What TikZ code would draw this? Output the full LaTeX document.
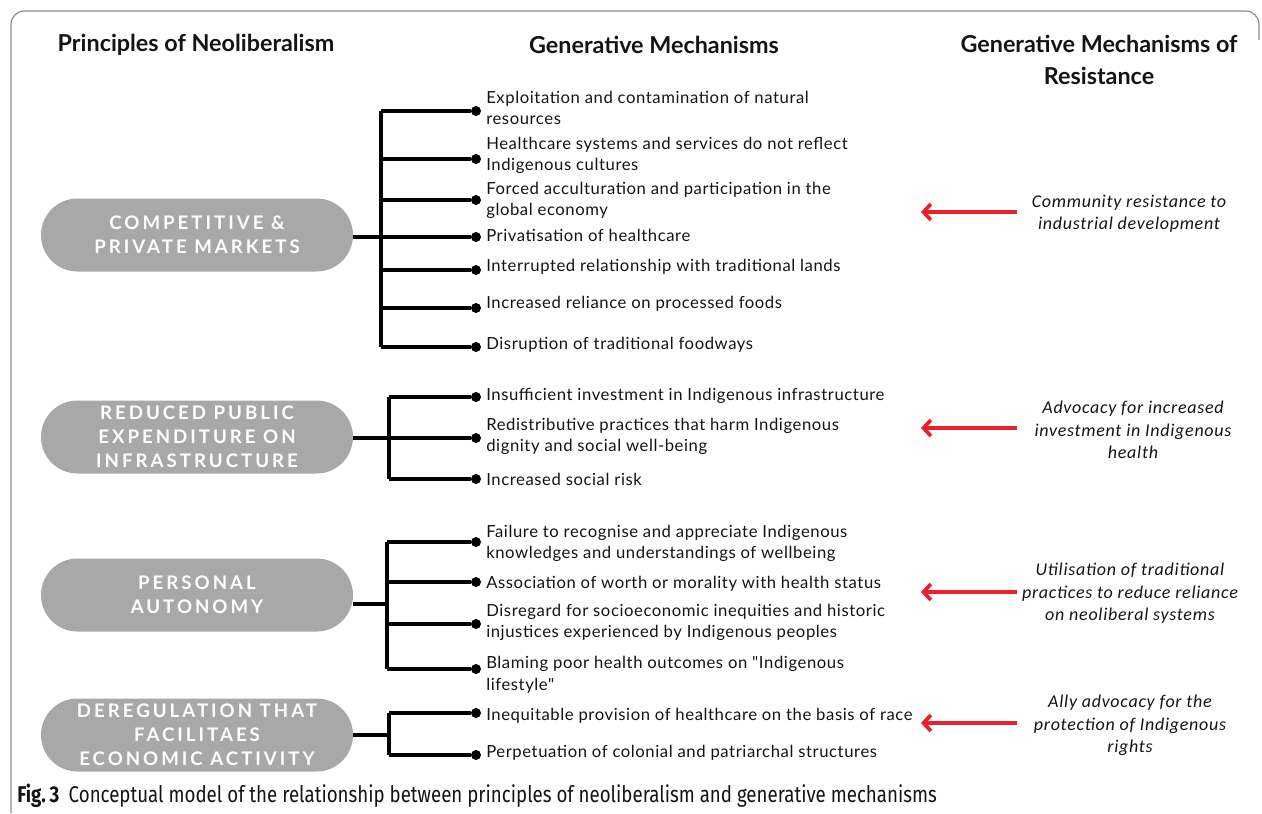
\documentclass[tikz,border=0pt]{standalone}
\usepackage{fontspec}
\setmainfont{Lato}
\newfontfamily\itemfont[LetterSpace=3.5]{Lato}
\newfontfamily\pillfont[LetterSpace=16]{Lato}
\newfontfamily\resfont[LetterSpace=4]{Carlito}
\newfontfamily\capfont[FakeStretch=0.82]{Fira Sans}
\usetikzlibrary{arrows.meta}
\definecolor{pillgray}{HTML}{A8A8A8}
\definecolor{arrred}{HTML}{E8202A}
\definecolor{txt}{HTML}{141414}
\definecolor{frame}{HTML}{8C8C8C}
\tikzset{
  pill/.style={fill=pillgray, rounded corners=27.3pt, minimum width=234pt, minimum height=54.75pt,
    text=white, font=\pillfont\bfseries\fontsize{14}{18}\selectfont, align=center, inner sep=0pt},
  item/.style={anchor=west, align=left, text=txt, font=\itemfont\fontsize{12.5}{16.2}\selectfont, inner sep=0pt},
  dot/.style={circle, fill=black, inner sep=0pt, minimum size=7.5pt},
  br/.style={line width=2.8pt, black},
  res/.style={font=\resfont\itshape\fontsize{13.5}{16.8}\selectfont, align=center, text=txt, inner sep=0pt},
  arr/.style={draw=arrred, line width=2.8pt, -{Straight Barb[length=5.5pt,width=12pt,line width=2.8pt]}},
  hdr/.style={font=\bfseries\fontsize{17.5}{23.5}\selectfont, align=center, text=txt, inner sep=0pt}
}
\begin{document}
\begin{tikzpicture}[x=0.75pt,y=-0.75pt]
\useasboundingbox (0,0) rectangle (1262,813);
% frame
\draw[frame, line width=0.9pt, rounded corners=10pt] (11,813) -- (11,11) -- (1259,11) -- (1259,40);
% headers
\node[hdr] (h1) at (196,45) {Principles of Neoliberalism};
\node[hdr] (h2) at (654,45) {Generative Mechanisms};
\node[hdr] (h3) at (1099,60) {Generative Mechanisms of\\Resistance};
% pills
\node[pill] (p1) at (197,235) {COMPETITIVE \&\\PRIVATE MARKETS};
\node[pill] (p2) at (197,437) {REDUCED PUBLIC\\EXPENDITURE ON\\INFRASTRUCTURE};
\node[pill] (p3) at (197,595) {PERSONAL\\AUTONOMY};
\node[pill] (p4) at (197,735) {DEREGULATION THAT\\FACILITAES\\ECONOMIC ACTIVITY};
% bullets
\node[dot] (b1a) at (476,111) {};
\node[dot] (b1b) at (476,159) {};
\node[dot] (b1c) at (476,200) {};
\node[dot] (b1d) at (476,237) {};
\node[dot] (b1e) at (476,270) {};
\node[dot] (b1f) at (476,308) {};
\node[dot] (b1g) at (476,347) {};
\node[dot] (b2a) at (476,397) {};
\node[dot] (b2b) at (476,438) {};
\node[dot] (b2c) at (476,479) {};
\node[dot] (b3a) at (476,542) {};
\node[dot] (b3b) at (476,582) {};
\node[dot] (b3c) at (476,624) {};
\node[dot] (b3d) at (476,669) {};
\node[dot] (b4a) at (476,713) {};
\node[dot] (b4b) at (476,755) {};
% items
\node[item] (i1a) at (486,108) {Exploitation and contamination of natural\\resources};
\node[item] (i1b) at (486,155.5) {Healthcare systems and services do not reflect\\Indigenous cultures};
\node[item] (i1c) at (486,200.5) {Forced acculturation and participation in the\\global economy};
\node[item] (i1d) at (486,235) {Privatisation of healthcare};
\node[item] (i1e) at (486,267) {Interrupted relationship with traditional lands};
\node[item] (i1f) at (486,304) {Increased reliance on processed foods};
\node[item] (i1g) at (486,345) {Disruption of traditional foodways};
\node[item] (i2a) at (486,396) {Insufficient investment in Indigenous infrastructure};
\node[item] (i2b) at (486,436.5) {Redistributive practices that harm Indigenous\\dignity and social well-being};
\node[item] (i2c) at (486,479) {Increased social risk};
\node[item] (i3a) at (486,543.5) {Failure to recognise and appreciate Indigenous\\knowledges and understandings of wellbeing};
\node[item] (i3b) at (486,584) {Association of worth or morality with health status};
\node[item] (i3c) at (486,622.5) {Disregard for socioeconomic inequities and historic\\injustices experienced by Indigenous peoples};
\node[item] (i3d) at (486,674.5) {Blaming poor health outcomes on "Indigenous\\lifestyle"};
\node[item] (i4a) at (486,716) {Inequitable provision of healthcare on the basis of race};
\node[item] (i4b) at (486,753) {Perpetuation of colonial and patriarchal structures};
% junctions
\coordinate (j1) at (381,237);
\coordinate (j2) at (389,438);
\coordinate (j3) at (387,604);
\coordinate (j4) at (389,735);
% brackets group 1
\draw[br] (j1 -| p1.east) -- (j1);
\draw[br] (b1a -| j1) -- (b1g -| j1);
\foreach \b in {b1a,b1b,b1c,b1d,b1e,b1f,b1g} \draw[br] (\b -| j1) -- (\b);
% group 2
\draw[br] (j2 -| p2.east) -- (j2);
\draw[br] (b2a -| j2) -- (b2c -| j2);
\foreach \b in {b2a,b2b,b2c} \draw[br] (\b -| j2) -- (\b);
% group 3
\draw[br] (j3 -| p3.east) -- (j3);
\draw[br] (b3a -| j3) -- (b3d -| j3);
\foreach \b in {b3a,b3b,b3c,b3d} \draw[br] (\b -| j3) -- (\b);
% group 4
\draw[br] (j4 -| p4.east) -- (j4);
\draw[br] (b4a -| j4) -- (b4b -| j4);
\foreach \b in {b4a,b4b} \draw[br] (\b -| j4) -- (\b);
% resistance
\node[res] (r1) at (1129,213.5) {Community resistance to\\industrial development};
\node[res] (r2) at (1133,430) {Advocacy for increased\\investment in Indigenous\\health};
\node[res] (r3) at (1130,593.5) {Utilisation of traditional\\practices to reduce reliance\\on neoliberal systems};
\node[res] (r4) at (1130,725.5) {Ally advocacy for the\\protection of Indigenous\\rights};
\coordinate (t1) at (1017,212); \coordinate (a1) at (921,212);
\coordinate (t2) at (1017,428); \coordinate (a2) at (921,428);
\coordinate (t3) at (1017,592); \coordinate (a3) at (921,592);
\coordinate (t4) at (1017,723); \coordinate (a4) at (921,723);
\draw[arr] (t1) -- (a1);
\draw[arr] (t2) -- (a2);
\draw[arr] (t3) -- (a3);
\draw[arr] (t4) -- (a4);
% caption
\node[anchor=west, inner sep=0pt, text=txt, font=\capfont\fontsize{17.1}{19}\selectfont] (cap) at (17,796)
  {\textbf{Fig.\,3}\hspace{7pt}Conceptual model of the relationship between principles of neoliberalism and generative mechanisms};
\end{tikzpicture}
\end{document}
